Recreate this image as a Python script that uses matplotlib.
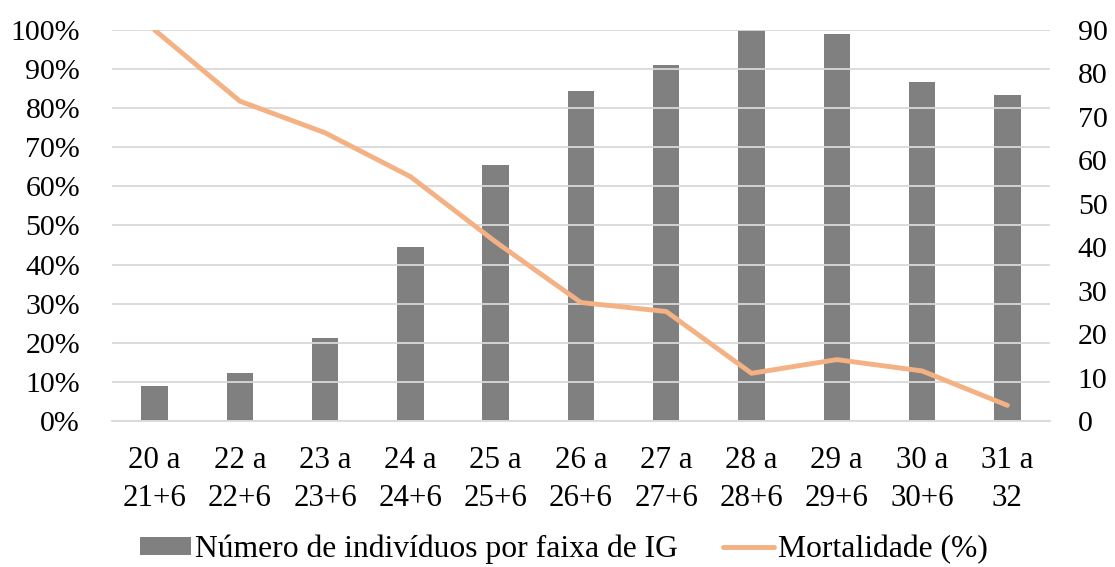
import matplotlib
matplotlib.use("Agg")
import matplotlib.pyplot as plt
from matplotlib.ticker import FuncFormatter, MultipleLocator

plt.rcParams['font.family'] = ['Liberation Serif', 'DejaVu Serif']

categories = ["20 a\n21+6", "22 a\n22+6", "23 a\n23+6", "24 a\n24+6", "25 a\n25+6",
              "26 a\n26+6", "27 a\n27+6", "28 a\n28+6", "29 a\n29+6", "30 a\n30+6", "31 a\n32"]
individuos = [8, 11, 19, 40, 59, 76, 82, 90, 89, 78, 75]
mortalidade = [100.0, 81.8, 73.7, 62.5, 45.8, 30.3, 28.0, 12.2, 15.7, 12.8, 4.0]

bar_color = "#808080"
line_color = "#F4B183"
grid_color = "#D9D9D9"
fs_y = 21.5
fs_x = 22.3
fs_leg = 22.8

fig = plt.figure(figsize=(11.15, 5.67), dpi=100)
ax = fig.add_axes([0.1004, 0.2575, 0.8413, 0.6896])
ax2 = ax.twinx()

x = list(range(len(categories)))

# left axis: mortality (%), right axis: counts
ax.set_ylim(0, 100)
ax.yaxis.set_major_locator(MultipleLocator(10))
ax.yaxis.set_major_formatter(FuncFormatter(lambda v, p: f"{int(round(v))}%"))
ax.grid(axis='y', color=grid_color, linewidth=1.3)
ax.set_axisbelow(True)

ax2.set_ylim(0, 90)
ax2.yaxis.set_major_locator(MultipleLocator(10))

bars = ax2.bar(x, individuos, width=0.31, color=bar_color, zorder=2,
               label="Número de indivíduos por faixa de IG")
ax2.set_zorder(1)
ax.set_zorder(2)
ax.patch.set_visible(False)
line, = ax.plot(x, mortalidade, color=line_color, linewidth=3.5, zorder=3,
                solid_capstyle='round', label="Mortalidade (%)")

ax.set_xlim(-0.5, len(categories) - 0.5)
ax.set_xticks(x)
ax.set_xticklabels(categories, fontsize=fs_x, linespacing=1.41)

for a in (ax, ax2):
    for s in a.spines.values():
        s.set_visible(False)
    a.tick_params(length=0)
ax.tick_params(axis='y', labelsize=fs_y, pad=23)
ax.tick_params(axis='x', labelsize=fs_x, pad=18)
ax2.tick_params(axis='y', labelsize=fs_y, pad=20)
ax.spines['bottom'].set_visible(True)
ax.spines['bottom'].set_color(grid_color)
ax.spines['bottom'].set_linewidth(1.3)

fig.legend([bars, line], ["Número de indivíduos por faixa de IG", "Mortalidade (%)"],
           loc='center', bbox_to_anchor=(0.5054, 0.031), ncol=2, frameon=False,
           fontsize=fs_leg, handlelength=1.64, handletextpad=0.1, columnspacing=1.42,
           handleheight=0.47, borderaxespad=0, borderpad=0)

fig.savefig("out.png", dpi=100)
